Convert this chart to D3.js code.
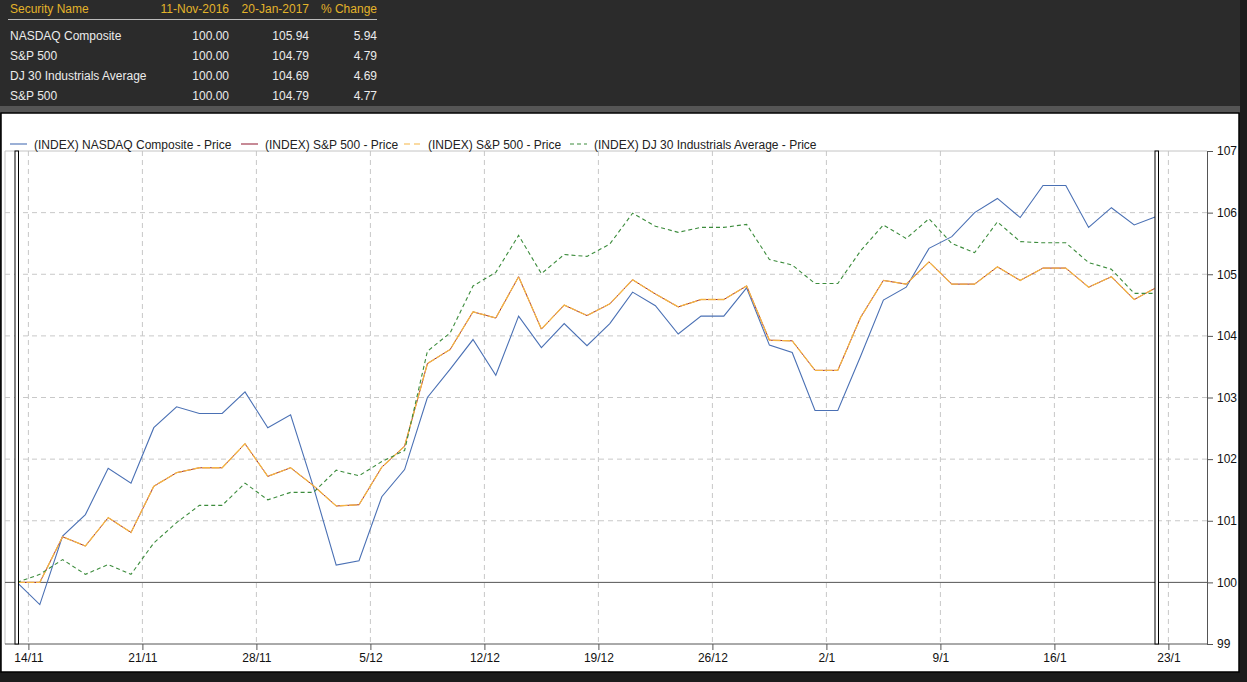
<!DOCTYPE html>
<html>
<head>
<meta charset="utf-8">
<script src="https://cdn.jsdelivr.net/npm/d3@7"></script>
<style>
  body { margin: 0; background: #2b2b2b; }
  svg { display: block; font-family: "Liberation Sans", Arial, sans-serif; }
</style>
</head>
<body>
<div id="chart"></div>
<script>
// trading days 11/11/2016 .. 20/1/2017 (holidays carry previous close)
const days = ['11/11','14/11','15/11','16/11','17/11','18/11','21/11','22/11','23/11','24/11','25/11',
  '28/11','29/11','30/11','1/12','2/12','5/12','6/12','7/12','8/12','9/12',
  '12/12','13/12','14/12','15/12','16/12','19/12','20/12','21/12','22/12','23/12',
  '26/12','27/12','28/12','29/12','30/12','2/1','3/1','4/1','5/1','6/1',
  '9/1','10/1','11/1','12/1','13/1','16/1','17/1','18/1','19/1','20/1'];

const nasdaq = [100.00, 99.64, 100.75, 101.10, 101.85, 101.61, 102.51, 102.85, 102.74, 102.74, 103.09,
  102.51, 102.72, 101.55, 100.28, 100.35, 101.39, 101.83, 103.00, 103.46, 103.94,
  103.36, 104.32, 103.81, 104.20, 103.84, 104.20, 104.71, 104.49, 104.03, 104.32,
  104.32, 104.78, 103.85, 103.73, 102.79, 102.79, 103.67, 104.58, 104.79, 105.42,
  105.61, 106.00, 106.23, 105.92, 106.44, 106.44, 105.76, 106.08, 105.80, 105.94];

const sp500 = [100.00, 100.00, 100.74, 100.59, 101.05, 100.81, 101.56, 101.78, 101.86, 101.86, 102.25,
  101.72, 101.86, 101.57, 101.24, 101.26, 101.87, 102.21, 103.55, 103.78, 104.39,
  104.29, 104.96, 104.11, 104.50, 104.33, 104.52, 104.91, 104.68, 104.47, 104.59,
  104.59, 104.81, 103.93, 103.92, 103.44, 103.44, 104.30, 104.90, 104.84, 105.20,
  104.84, 104.84, 105.12, 104.90, 105.10, 105.10, 104.79, 104.96, 104.59, 104.79];

const dj30 = [100.00, 100.13, 100.37, 100.13, 100.29, 100.13, 100.64, 100.97, 101.25, 101.25, 101.61,
  101.34, 101.46, 101.46, 101.82, 101.73, 101.96, 102.14, 103.75, 104.05, 104.81,
  105.03, 105.63, 105.01, 105.32, 105.29, 105.49, 105.99, 105.78, 105.68, 105.76,
  105.76, 105.81, 105.24, 105.15, 104.85, 104.85, 105.38, 105.80, 105.58, 105.90,
  105.50, 105.35, 105.85, 105.53, 105.51, 105.51, 105.19, 105.08, 104.69, 104.69];

const weekLabels = ['14/11','21/11','28/11','5/12','12/12','19/12','26/12','2/1','9/1','16/1','23/1'];
const yTicks = [99, 100, 101, 102, 103, 104, 105, 106, 107];

const tableHead = ['Security Name', '11-Nov-2016', '20-Jan-2017', '% Change'];
const tableRows = [
  ['NASDAQ Composite', '100.00', '105.94', '5.94'],
  ['S&P 500', '100.00', '104.79', '4.79'],
  ['DJ 30 Industrials Average', '100.00', '104.69', '4.69'],
  ['S&P 500', '100.00', '104.79', '4.77']
];

const legendNames = ['(INDEX) NASDAQ Composite - Price', '(INDEX) S&P 500 - Price',
  '(INDEX) S&P 500 - Price', '(INDEX) DJ 30 Industrials Average - Price'];

const W = 1247, H = 682;
const svg = d3.select('#chart').append('svg').attr('width', W).attr('height', H);

// background panels
svg.append('rect').attr('width', W).attr('height', H).attr('fill', '#2b2b2b');
svg.append('rect').attr('x', 0).attr('y', 106).attr('width', 1240).attr('height', 7).attr('fill', '#555');
svg.append('rect').attr('x', 1240).attr('y', 0).attr('width', 7).attr('height', H).attr('fill', '#1c1c1c');
svg.append('rect').attr('x', 0).attr('y', 672).attr('width', W).attr('height', 10).attr('fill', '#1c1c1c');
svg.append('rect').attr('x', 1).attr('y', 113).attr('width', 1238).attr('height', 559)
  .attr('fill', '#fff').attr('stroke', '#000').attr('stroke-width', 1.5);

// summary table
const colX = [10, 229, 309, 377];
const head = svg.append('g').attr('font-size', 12);
head.selectAll('text').data(tableHead).enter().append('text')
  .attr('x', (d, i) => colX[i]).attr('y', 13)
  .attr('text-anchor', (d, i) => i === 0 ? 'start' : 'end')
  .attr('fill', '#e3b32a').text(d => d);
head.append('line').attr('x1', 8).attr('x2', 377).attr('y1', 19.5).attr('y2', 19.5)
  .attr('stroke', '#bbb').attr('stroke-width', 1);
tableRows.forEach((row, r) => {
  head.append('g').selectAll('text').data(row).enter().append('text')
    .attr('x', (d, i) => colX[i]).attr('y', 39.5 + r * 20)
    .attr('text-anchor', (d, i) => i === 0 ? 'start' : 'end')
    .attr('fill', '#ececec').text(d => d);
});

// scales
const x = d3.scaleLinear().domain([0, days.length - 1]).range([17, 1157]);
const y = d3.scaleLinear().domain([99, 107]).range([644, 151]);
const left = 5, right = 1207;
const tickPos = weekLabels.map((d, k) => 0.5 + 5 * k);

const grid = svg.append('g');
grid.selectAll('line.h').data(yTicks.filter(v => v > 100 && v < 107)).enter().append('line')
  .attr('x1', left).attr('x2', right).attr('y1', d => y(d)).attr('y2', d => y(d))
  .attr('stroke', '#c8c8c8').attr('stroke-dasharray', '5,4');
grid.selectAll('line.v').data(tickPos).enter().append('line')
  .attr('x1', d => x(d)).attr('x2', d => x(d)).attr('y1', y(107)).attr('y2', y(99))
  .attr('stroke', '#c8c8c8').attr('stroke-dasharray', '5,4');
grid.append('line').attr('x1', left).attr('x2', right).attr('y1', y(107)).attr('y2', y(107))
  .attr('stroke', '#c4c4c4');
grid.append('line').attr('x1', left).attr('x2', left).attr('y1', y(107)).attr('y2', y(99))
  .attr('stroke', '#c4c4c4');
grid.append('line').attr('x1', left).attr('x2', right).attr('y1', y(100)).attr('y2', y(100))
  .attr('stroke', '#555');

// axes
const xAxis = svg.append('g').attr('transform', `translate(0,${y(99)})`)
  .call(d3.axisBottom(x).tickValues(tickPos).tickFormat((d, i) => weekLabels[i])
    .tickSize(6).tickPadding(3));
xAxis.select('.domain').remove();
svg.append('line').attr('x1', left).attr('x2', right).attr('y1', y(99)).attr('y2', y(99))
  .attr('stroke', '#555');

const yAxis = svg.append('g').attr('transform', `translate(${right},0)`)
  .call(d3.axisRight(y).tickValues(yTicks).tickFormat(d3.format('d'))
    .tickSize(6).tickSizeOuter(0).tickPadding(4));
yAxis.select('.domain').attr('stroke', '#555');

[xAxis, yAxis].forEach(a => {
  a.selectAll('.tick line').attr('stroke', '#555');
  a.selectAll('.tick text').attr('font-size', 12).attr('fill', '#111')
    .attr('font-family', '"Liberation Sans", Arial, sans-serif');
});

// series
const line = d3.line().x((d, i) => x(i)).y(d => y(d));
const series = [
  { values: nasdaq, color: '#4a70b4', dash: null, w: 1.1 },
  { values: sp500, color: '#9a2a40', dash: null, w: 1 },
  { values: sp500, color: '#f5b545', dash: '8,1.5', w: 1.3 },
  { values: dj30, color: '#3c8c3c', dash: '4,3', w: 1.1 }
];
svg.append('g').selectAll('path').data(series).enter().append('path')
  .attr('d', d => line(d.values))
  .attr('fill', 'none')
  .attr('stroke', d => d.color)
  .attr('stroke-width', d => d.w)
  .attr('stroke-dasharray', d => d.dash);

// selection markers
[0, days.length - 1].forEach(i => {
  svg.append('rect').attr('x', x(i) - 2).attr('y', y(107)).attr('width', 3.5).attr('height', y(99) - y(107))
    .attr('fill', '#fff').attr('stroke', '#000').attr('stroke-width', 1);
});

// legend
const legendX = [10, 241, 404, 570];
const legendDash = [null, null, '6,4', '4,3'];
const lg = svg.append('g').attr('font-size', 12);
series.forEach((s, i) => {
  const g = lg.append('g').attr('transform', `translate(${legendX[i]},144)`);
  g.append('line').attr('x1', 0).attr('x2', 17).attr('y1', 0).attr('y2', 0)
    .attr('stroke', s.color).attr('stroke-width', 1.1)
    .attr('stroke-dasharray', legendDash[i]);
  g.append('text').attr('x', 24).attr('y', 4.5).attr('fill', '#222').text(legendNames[i]);
});
</script>
</body>
</html>
